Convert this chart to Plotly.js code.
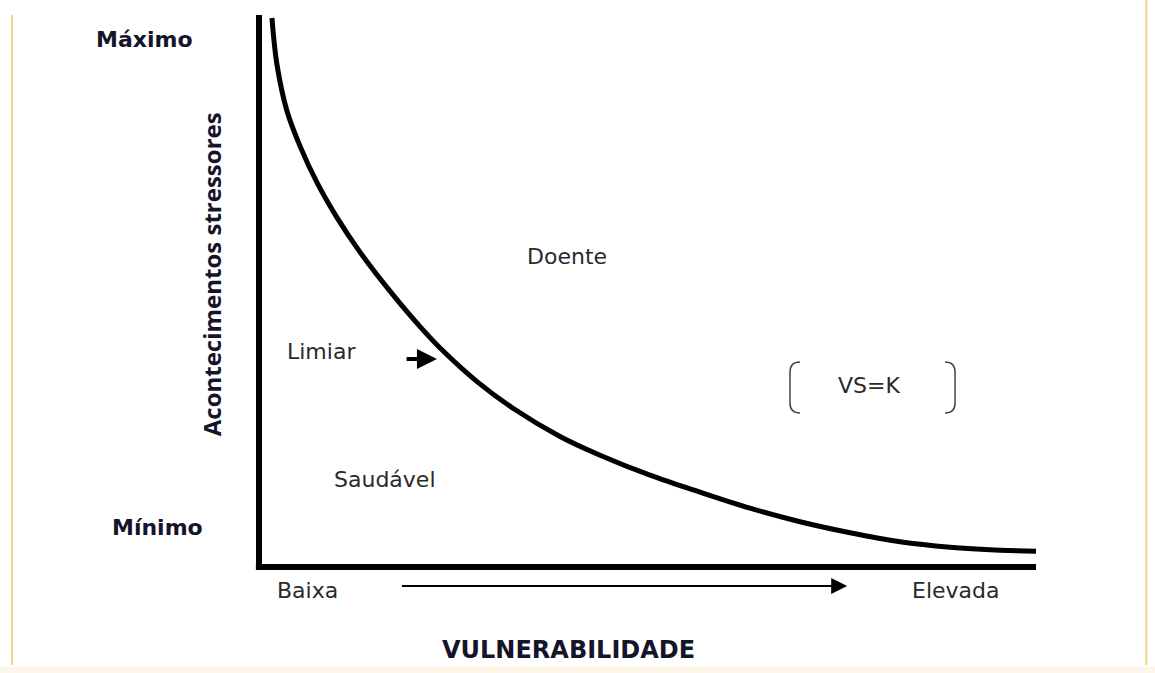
<!DOCTYPE html>
<html>
<head>
<meta charset="utf-8">
<script src="https://cdn.plot.ly/plotly-3.0.1.min.js"></script>
<style>html,body{margin:0;padding:0;background:#fff;}#chart{width:1155px;height:673px;}</style>
</head>
<body>
<div id="chart"></div>
<script>
// Curve: stress threshold vs vulnerability (VS = K) (0-100 scale)
var vulnerability = [1.67, 2.32, 3.60, 5.28, 7.47, 10.04, 13.00, 16.86, 20.72, 23.94, 28.06, 32.69, 38.74, 43.89, 50.32, 56.76, 63.19, 69.63, 76.06, 82.50, 88.93, 95.37, 100];
var stress =        [99.46, 90.94, 82.61, 76.25, 69.63, 63.29, 57.04, 49.97, 43.56, 38.80, 33.59, 28.76, 23.65, 20.25, 16.63, 13.55, 10.65, 8.20, 6.21, 4.58, 3.59, 3.04, 2.84];

var yLabels = ['Máximo', 'Mínimo'];
var xLabels = ['Baixa', 'Elevada'];
var regionLabels = ['Doente', 'Limiar', 'Saudável'];
var formula = 'VS=K';
var xTitle = 'VULNERABILIDADE';
var yTitle = 'Acontecimentos stressores';

var ink = '#000000';
var txt = '#2a2a2a';
var boldTxt = '#14142a';
var reg = {family: 'DejaVu Sans, Verdana, sans-serif', size: 22, color: txt};
var bold = {family: 'DejaVu Sans, Verdana, sans-serif', size: 22, color: boldTxt, weight: 'bold'};
var boldBig = {family: 'DejaVu Sans, Verdana, sans-serif', size: 24, color: boldTxt, weight: 'bold'};

var traces = [{
  x: vulnerability, y: stress, type: 'scatter', mode: 'lines',
  line: {color: ink, width: 5, shape: 'spline', smoothing: 1.0},
  hoverinfo: 'skip', showlegend: false
}];

function ann(text, x, y, font, extra) {
  var a = {text: text, x: x, y: y, xref: 'x', yref: 'y', showarrow: false, font: font, xanchor: 'center', yanchor: 'middle'};
  for (var k in extra) a[k] = extra[k];
  return a;
}

var annotations = [
  ann(yLabels[0], -14.7, 95.5, bold),
  ann(yLabels[1], -13.1, 7.1, bold),
  ann(yTitle, -6.0, 53.1, {family: 'Open Sans, Noto Sans, sans-serif', size: 24, color: boldTxt, weight: 'bold'}, {textangle: -90}),
  ann(regionLabels[0], 39.6, 56.2, reg),
  ann(regionLabels[1], 8.1, 39.0, reg),
  ann(regionLabels[2], 16.2, 15.8, reg),
  ann(formula, 78.5, 32.8, reg),
  ann(xLabels[0], 6.3, -4.2, reg),
  ann(xLabels[1], 89.7, -4.2, reg),
  ann(xTitle, 39.8, -15.0, boldBig),
  // direction arrow along the x axis
  {x: 75.7, y: -3.45, ax: 18.2, ay: -3.45, xref: 'x', yref: 'y', axref: 'x', ayref: 'y', text: '', showarrow: true,
   arrowhead: 2, arrowsize: 1.6, arrowwidth: 2, arrowcolor: ink},
  // threshold pointer
  {x: 22.9, y: 37.7, ax: 18.8, ay: 37.7, xref: 'x', yref: 'y', axref: 'x', ayref: 'y', text: '', showarrow: true,
   arrowhead: 2, arrowsize: 1, arrowwidth: 4, arrowcolor: ink}
];

var shapes = [
  // axes
  {type: 'line', xref: 'x', yref: 'y', x0: 0, x1: 0, y0: -0.4, y1: 100.0, line: {color: ink, width: 6}},
  {type: 'line', xref: 'x', yref: 'y', x0: -0.4, x1: 100.0, y0: 0, y1: 0, line: {color: ink, width: 6}},
  // brackets around VS=K
  {type: 'path', xref: 'x', yref: 'y', path: 'M 69.63,37.14 Q 68.34,37.14 68.34,35.33 L 68.34,29.71 Q 68.34,27.90 69.63,27.90', line: {color: '#444', width: 1.5}},
  {type: 'path', xref: 'x', yref: 'y', path: 'M 88.29,37.14 Q 89.58,37.14 89.58,35.33 L 89.58,29.71 Q 89.58,27.90 88.29,27.90', line: {color: '#444', width: 1.5}},
  // page frame
  {type: 'line', xref: 'paper', yref: 'paper', x0: 0.0105, x1: 0.0105, y0: 0.012, y1: 0.978, line: {color: '#f0d283', width: 2}},
  {type: 'line', xref: 'paper', yref: 'paper', x0: 0.9925, x1: 0.9925, y0: 0.012, y1: 1.0, line: {color: '#f0d283', width: 2}},
  {type: 'rect', xref: 'paper', yref: 'paper', x0: 0, x1: 1, y0: 0, y1: 0.009, fillcolor: '#fdf5e6', line: {width: 0}, layer: 'below'}
];

var layout = {
  width: 1155, height: 673,
  margin: {l: 0, r: 0, t: 0, b: 0},
  paper_bgcolor: '#ffffff', plot_bgcolor: '#ffffff',
  xaxis: {range: [-33.333, 115.315], visible: false, fixedrange: true},
  yaxis: {range: [-19.203, 102.717], visible: false, fixedrange: true},
  showlegend: false,
  annotations: annotations,
  shapes: shapes
};

Plotly.newPlot('chart', traces, layout, {staticPlot: true, displayModeBar: false});
</script>
</body>
</html>
